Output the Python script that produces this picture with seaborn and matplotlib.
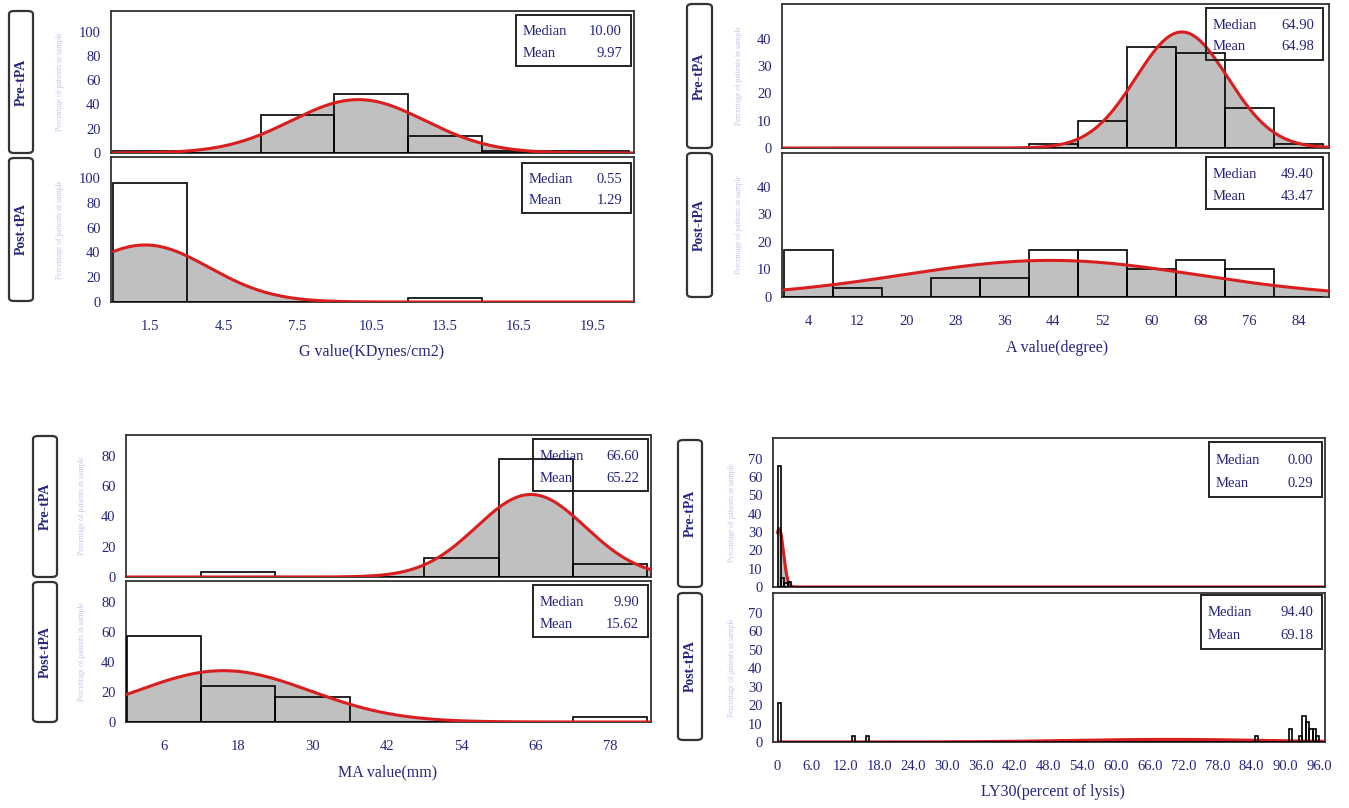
import numpy as np
import pandas as pd
import matplotlib
matplotlib.use("Agg")
import matplotlib.pyplot as plt
import seaborn as sns
from matplotlib.patches import Rectangle, FancyBboxPatch
from matplotlib.ticker import FixedLocator, MultipleLocator

# ---------------- data ----------------
# G value (KDynes/cm2), bins of width 3
g_edges = [0, 3, 6, 9, 12, 15, 18, 21]
g_ticks = [1.5, 4.5, 7.5, 10.5, 13.5, 16.5, 19.5]
g_pre_pct = [2, 0, 31, 49, 14, 2, 2]
g_post_pct = [96, 0, 0, 0, 3, 0, 0]
g_pre_stats = ["10.00", "9.97"]
g_post_stats = ["0.55", "1.29"]
g_fit_pre = [9.97, 2.72]    # mean, sd of fitted normal
g_fit_post = [1.29, 2.6]

# A value (degree), bins of width 8
a_edges = [0, 8, 16, 24, 32, 40, 48, 56, 64, 72, 80, 88]
a_ticks = [4, 12, 20, 28, 36, 44, 52, 60, 68, 76, 84]
a_pre_pct = [0, 0, 0, 0, 0, 1.6, 10, 37, 35, 14.5, 1.6]
a_post_pct = [17, 3.4, 0, 7, 7, 17, 17, 10, 13.6, 10, 0]
a_pre_stats = ["64.90", "64.98"]
a_post_stats = ["49.40", "43.47"]
a_fit_pre = [64.98, 7.5]
a_fit_post = [43.47, 24.0]

# MA value (mm), bins of width 12
ma_edges = [0, 12, 24, 36, 48, 60, 72, 84]
ma_ticks = [6, 18, 30, 42, 54, 66, 78]
ma_pre_pct = [0, 3, 0, 0, 12.5, 78, 8.6]
ma_post_pct = [57, 24, 16.5, 0, 0, 0, 3.3]
ma_pre_stats = ["66.60", "65.22"]
ma_post_stats = ["9.90", "15.62"]
ma_fit_pre = [65.22, 8.8]
ma_fit_post = [15.62, 14.0]

# LY30 (percent of lysis), bins of width 0.6
ly_edges = [round(0.6 * i, 2) for i in range(163)]
ly_ticks = [0, 6, 12, 18, 24, 30, 36, 42, 48, 54, 60, 66, 72, 78, 84, 90, 96]
ly_ticklabels = ["0", "6.0", "12.0", "18.0", "24.0", "30.0", "36.0", "42.0", "48.0",
                 "54.0", "60.0", "66.0", "72.0", "78.0", "84.0", "90.0", "96.0"]
ly_pre_x = [0.3, 0.9, 1.5, 2.1]
ly_pre_pct = [66, 5, 2, 3]
ly_post_x = [0.3, 13.5, 15.9, 84.9, 90.9, 92.7, 93.3, 93.9, 94.5, 95.1, 95.7]
ly_post_pct = [21, 3.5, 3.5, 3.5, 7, 3.5, 14, 11, 7, 7, 3]
ly_pre_stats = ["0.00", "0.29"]
ly_post_stats = ["94.40", "69.18"]
ly_fit_pre = [0.29, 0.75]
ly_fit_post = [69.18, 17.0]

# ---------------- style ----------------
sns.set_style("white")
plt.rcParams["font.family"] = ["Liberation Serif", "DejaVu Serif"]

W, H = 1349, 808
fig = plt.figure(figsize=(W / 100, H / 100), dpi=100)
fig.patch.set_facecolor("white")

NAVY = "#25257e"
FAINT = "#c4c4ea"
RED = "#d81e1e"
GRAY = "#c0c0c0"


def frect(l, t, r, b):
    return [l / W, 1 - b / H, (r - l) / W, (b - t) / H]


def ftext(x, y, s, **kw):
    fig.text(x / W, 1 - y / H, s, **kw)


def box(l, t, r, b, rounded=False, lw=1.4):
    if rounded:
        p = FancyBboxPatch((l / W, 1 - b / H), (r - l) / W, (b - t) / H,
                           boxstyle="round,pad=0,rounding_size=0.004",
                           transform=fig.transFigure, fill=False,
                           edgecolor="#333333", linewidth=lw + 0.2, zorder=5)
    else:
        p = Rectangle((l / W, 1 - b / H), (r - l) / W, (b - t) / H,
                      transform=fig.transFigure, fill=False,
                      edgecolor="#222222", linewidth=lw, zorder=5)
    fig.add_artist(p)


def legend_box(rect, stats):
    l, t, r, b = rect
    box(l, t, r, b)
    h = b - t
    for i, name in enumerate(["Median", "Mean"]):
        y = t + h * (0.33 + 0.42 * i)
        ftext(l + 7, y, name, color=NAVY, fontsize=10.5, va="center", ha="left")
        ftext(r - 9, y, stats[i], color=NAVY, fontsize=10.5, va="center", ha="right")


def draw_hist(ax, edges, pct, fit, xlim, ylim, bars_on_top=False, xs_data=None):
    edges = [float(e) for e in edges]
    if xs_data is None:
        xs_data = [(a + b) / 2 for a, b in zip(edges[:-1], edges[1:])]
    binw = edges[1] - edges[0]
    mu, sd = fit
    xs = np.linspace(max(xlim[0], edges[0]), xlim[1], 600)
    ys = 100 * binw * np.exp(-0.5 * ((xs - mu) / sd) ** 2) / (sd * np.sqrt(2 * np.pi))
    ax.fill_between(xs, ys, 0, color=GRAY, linewidth=0, zorder=1)
    df = pd.DataFrame({"x": list(xs_data), "w": list(pct)})
    sns.histplot(data=df, x="x", weights="w", bins=edges, fill=False, color="black",
                 linewidth=1.2, ax=ax, zorder=5 if bars_on_top else 3)
    sns.lineplot(x=xs, y=ys, color=RED, linewidth=2.2, ax=ax, zorder=4)
    ax.set_xlim(*xlim)
    ax.set_ylim(*ylim)
    ax.set_xlabel("")
    ax.set_ylabel("")
    for s in ax.spines.values():
        s.set_color("#333333")
        s.set_linewidth(1.3)
    ax.tick_params(axis="both", which="both", direction="out", color="#333333",
                   labelcolor=NAVY, labelsize=10.5)
    ax.tick_params(axis="both", which="major", length=4, width=1)
    ax.tick_params(axis="both", which="minor", length=2.5, width=0.9)


def panel(cfg):
    ax_u = fig.add_axes(frect(*cfg["upper"]))
    ax_l = fig.add_axes(frect(*cfg["lower"]))
    draw_hist(ax_u, cfg["edges"], cfg["pre"], cfg["fit_pre"], cfg["xlim"], cfg["ylim_u"],
              cfg.get("bars_top", False), cfg.get("pre_x"))
    draw_hist(ax_l, cfg["edges"], cfg["post"], cfg["fit_post"], cfg["xlim"], cfg["ylim_l"],
              cfg.get("bars_top", False), cfg.get("post_x"))
    for ax in (ax_u, ax_l):
        ax.yaxis.set_major_locator(FixedLocator(cfg["yticks"]))
        if cfg.get("yminor"):
            ax.yaxis.set_minor_locator(MultipleLocator(cfg["yminor"]))
        ax.xaxis.set_major_locator(FixedLocator(cfg["xticks"]))
    ax_u.tick_params(axis="x", which="both", bottom=False, labelbottom=False)
    if cfg.get("xticklabels"):
        ax_l.set_xticklabels(cfg["xticklabels"])
    if cfg.get("xminor"):
        ax_l.xaxis.set_minor_locator(FixedLocator(cfg["xminor"]))
    ax_l.tick_params(axis="x", which="major", pad=9)

    for rect, lab in ((cfg["box_u"], "Pre-tPA"), (cfg["box_l"], "Post-tPA")):
        l, t, r, b = rect
        box(l, t, r, b, rounded=True)
        ftext((l + r) / 2, (t + b) / 2, lab, rotation=90, ha="center", va="center",
              color=NAVY, fontsize=10, fontweight="bold")
    for rect in (cfg["upper"], cfg["lower"]):
        ftext(cfg["ylab_x"], (rect[1] + rect[3]) / 2, "Percentage of patients in sample",
              rotation=90, ha="center", va="center", color=FAINT, fontsize=5.5)
    legend_box(cfg["leg_u"], cfg["stats_pre"])
    legend_box(cfg["leg_l"], cfg["stats_post"])
    ftext(cfg["xlab"][0], cfg["xlab"][1], cfg["xlab"][2], ha="center", va="center",
          color=NAVY, fontsize=11.5)


panel(dict(edges=g_edges, pre=g_pre_pct, post=g_post_pct, fit_pre=g_fit_pre, fit_post=g_fit_post,
           upper=(111, 11, 634, 153), lower=(111, 157, 634, 302),
           xlim=(-0.1, 21.2), ylim_u=(0, 117), ylim_l=(0, 117),
           yticks=[0, 20, 40, 60, 80, 100], xticks=g_ticks,
           box_u=(9, 11, 33, 153), box_l=(9, 158, 33, 301), ylab_x=60,
           leg_u=(516, 15, 631, 66), leg_l=(522, 163, 631, 213),
           stats_pre=g_pre_stats, stats_post=g_post_stats,
           xlab=(372, 352, "G value(KDynes/cm2)")))

panel(dict(edges=a_edges, pre=a_pre_pct, post=a_post_pct, fit_pre=a_fit_pre, fit_post=a_fit_post,
           upper=(782, 4, 1329, 148), lower=(782, 153, 1329, 297),
           xlim=(-0.3, 89), ylim_u=(0, 52.8), ylim_l=(0, 52.3),
           yticks=[0, 10, 20, 30, 40], yminor=5, xticks=a_ticks, xminor=a_edges,
           box_u=(687, 4, 712, 148), box_l=(687, 153, 712, 297), ylab_x=739,
           leg_u=(1206, 8, 1323, 60), leg_l=(1206, 157, 1323, 209),
           stats_pre=a_pre_stats, stats_post=a_post_stats,
           xlab=(1057, 348, "A value(degree)")))

panel(dict(edges=ma_edges, pre=ma_pre_pct, post=ma_post_pct, fit_pre=ma_fit_pre, fit_post=ma_fit_post,
           upper=(126, 435, 651, 577), lower=(126, 581, 651, 722),
           xlim=(-0.1, 84.6), ylim_u=(0, 93.6), ylim_l=(0, 93.9),
           yticks=[0, 20, 40, 60, 80], yminor=10, xticks=ma_ticks,
           box_u=(33, 436, 57, 577), box_l=(33, 582, 57, 722), ylab_x=82,
           leg_u=(533, 439, 648, 491), leg_l=(533, 585, 648, 637),
           stats_pre=ma_pre_stats, stats_post=ma_post_stats,
           xlab=(388, 772, "MA value(mm)")))

panel(dict(edges=ly_edges, pre=ly_pre_pct, post=ly_post_pct, fit_pre=ly_fit_pre, fit_post=ly_fit_post,
           pre_x=ly_pre_x, post_x=ly_post_x, bars_top=True,
           upper=(773, 438, 1325, 587), lower=(773, 593, 1325, 742),
           xlim=(-0.8, 97), ylim_u=(0, 81.4), ylim_l=(0, 80.7),
           yticks=[0, 10, 20, 30, 40, 50, 60, 70], xticks=ly_ticks, xticklabels=ly_ticklabels,
           xminor=ly_edges,
           box_u=(678, 440, 702, 587), box_l=(678, 593, 702, 740), ylab_x=732,
           leg_u=(1209, 442, 1322, 497), leg_l=(1201, 595, 1322, 649),
           stats_pre=ly_pre_stats, stats_post=ly_post_stats,
           xlab=(1053, 792, "LY30(percent of lysis)")))

fig.savefig("out.png", dpi=100, facecolor="white")
